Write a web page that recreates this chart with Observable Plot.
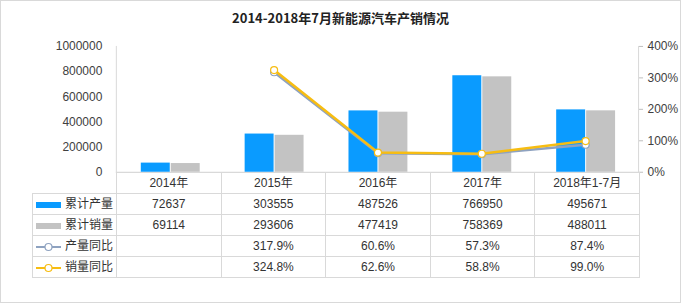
<!DOCTYPE html>
<html><head><meta charset="utf-8">
<script src="https://cdn.jsdelivr.net/npm/d3@7"></script>
<script src="https://cdn.jsdelivr.net/npm/@observablehq/plot@0.6"></script>
<style>
body{margin:0;background:#fff;}
#wrap{position:relative;width:681px;height:303px;box-sizing:border-box;border:1px solid #d9d9d9;overflow:hidden;font-family:"Liberation Sans","Noto Sans CJK SC",sans-serif;background:#fff;}
#title{position:absolute;top:7px;left:0;width:100%;text-align:center;font-weight:bold;font-size:13px;color:#222;font-family:"Noto Sans CJK SC",sans-serif;}
#chart{position:absolute;left:-1px;top:-1px;}
#tbl{position:absolute;left:31px;top:171px;border-collapse:collapse;font-size:12px;color:#333;table-layout:fixed;}
#tbl td{border:1px solid #d9d9d9;height:20px;text-align:center;padding:0;white-space:nowrap;line-height:20px;}
#tbl td.lg{text-align:left;padding-left:3px;}
#tbl td.blank{border-top:none;border-left:none;}
.sw{display:inline-block;vertical-align:middle;margin-right:4px;}
</style></head>
<body>
<div id="wrap">
<div id="title">2014-2018年7月新能源汽车产销情况</div>
<div id="chart"></div>
<table id="tbl"></table>
</div>
<script>
const categories = ["2014年","2015年","2016年","2017年","2018年1-7月"];
const production = [72637,303555,487526,766950,495671];
const sales = [69114,293606,477419,758369,488011];
const productionYoY = [null,317.9,60.6,57.3,87.4];
const salesYoY = [null,324.8,62.6,58.8,99.0];
const leftTicks = [0,200000,400000,600000,800000,1000000];
const rightTicks = [0,100,200,300,400];
const seriesNames = ["累计产量","累计销量","产量同比","销量同比"];

const blue = "#0a9bff", gray = "#c3c3c3", lineGray = "#8ea2c0", yellow = "#f7bd12";
const pctScale = 1000000/400;

const rows = categories.map((c,i)=>({cat:c, prod:production[i], sales:sales[i], pYoY:productionYoY[i], sYoY:salesYoY[i]}));
const lineRows = rows.filter(d=>d.pYoY!=null);

const chart = Plot.plot({
  width:681, height:303,
  marginLeft:116, marginRight:42, marginTop:46, marginBottom:131,
  style:{fontFamily:'"Liberation Sans","Noto Sans CJK SC",sans-serif', fontSize:"12px", color:"#404040", background:"transparent"},
  x:{domain:categories, padding:0, axis:null},
  y:{domain:[0,1000000], axis:null},
  marks:[
    Plot.frame({anchor:"left", stroke:"#d9d9d9"}),
    Plot.frame({anchor:"right", stroke:"#d9d9d9"}),
    Plot.ruleY([0], {stroke:"#d9d9d9"}),
    Plot.axisY(leftTicks, {anchor:"left", tickSize:0, tickPadding:14, tickFormat:d=>String(d)}),
    Plot.axisY(rightTicks.map(d=>d*pctScale), {anchor:"right", tickSize:4, tickPadding:5, stroke:"#bfbfbf", tickFormat:d=>(d/pctScale)+"%"}),
    Plot.barY(rows, {x:"cat", y:"prod", fill:blue, insetLeft:23, insetRight:52}),
    Plot.barY(rows, {x:"cat", y:"sales", fill:gray, insetLeft:53, insetRight:22}),
    Plot.line(lineRows, {x:"cat", y:d=>d.pYoY*pctScale, stroke:lineGray, strokeWidth:2.5}),
    Plot.dot(lineRows, {x:"cat", y:d=>d.pYoY*pctScale, r:3.5, fill:"#fff", stroke:lineGray, strokeWidth:1.2}),
    Plot.line(lineRows, {x:"cat", y:d=>d.sYoY*pctScale, stroke:yellow, strokeWidth:2.5}),
    Plot.dot(lineRows, {x:"cat", y:d=>d.sYoY*pctScale, r:3.5, fill:"#fff", stroke:yellow, strokeWidth:1.2})
  ]
});
document.getElementById("chart").appendChild(chart);

// data table
const tbl = document.getElementById("tbl");
const colW = (681-116-42)/categories.length;
let html = '<colgroup><col style="width:84px">' + categories.map(()=>`<col style="width:${colW}px">`).join("") + '</colgroup>';
html += '<tr><td class="blank"></td>' + categories.map(c=>`<td>${c}</td>`).join("") + '</tr>';
const barSw = c => `<span class="sw" style="width:25px;height:6px;background:${c}"></span>`;
const lineSw = c => `<svg class="sw" width="25" height="10"><line x1="0" y1="5" x2="25" y2="5" stroke="${c}" stroke-width="2"/><circle cx="12.5" cy="5" r="3.5" fill="#fff" stroke="${c}" stroke-width="1.2"/></svg>`;
const tableRows = [
  [barSw(blue)+seriesNames[0], production.map(v=>String(v))],
  [barSw(gray)+seriesNames[1], sales.map(v=>String(v))],
  [lineSw(lineGray)+seriesNames[2], productionYoY.map(v=>v==null?"":v.toFixed(1)+"%")],
  [lineSw(yellow)+seriesNames[3], salesYoY.map(v=>v==null?"":v.toFixed(1)+"%")]
];
for (const [lab, vals] of tableRows) {
  html += `<tr><td class="lg">${lab}</td>` + vals.map(v=>`<td>${v}</td>`).join("") + '</tr>';
}
tbl.innerHTML = html;
</script>
</body></html>
